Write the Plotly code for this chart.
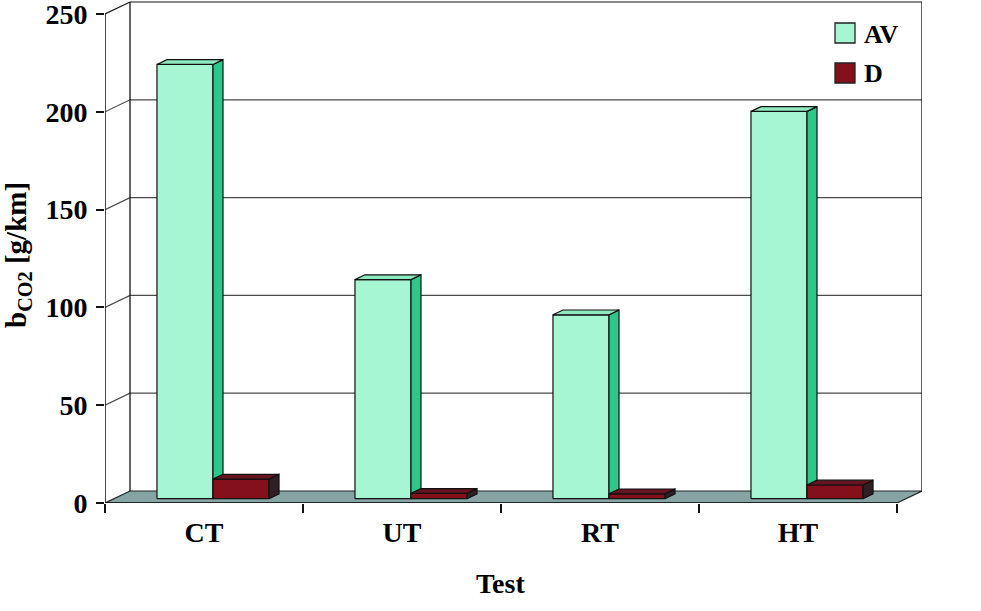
import plotly.graph_objects as go

# ---------------- data ----------------
categories = ["CT", "UT", "RT", "HT"]
series_names = ["AV", "D"]
av_values = [222, 112, 94, 198]
d_values = [10, 2.7, 2.5, 7]
y_ticks = [0, 50, 100, 150, 200, 250]

# ---------------- geometry / style ----------------
W, H = 981, 611
ML, MR, MT, MB = 105, 59, 1, 108
SX = 198.0                      # px per category
SY = 489 / 250                  # px per value unit
DX_PX, DY_PX = 25, 12           # 3-D depth offset in px
plot_w = W - ML - MR
plot_h = H - MT - MB
DX = DX_PX / SX
DY = DY_PX / SY
x_hi = plot_w / SX
y_hi = plot_h / SY
n = len(categories)
ymax = y_ticks[-1]

BW = 0.283                      # bar width (category units)
F0, F1 = 0.36, 0.76             # bar depth (front, back fraction)

FONT = "Liberation Serif"
colors = {
    "AV": dict(front="#A6F6D3", side="#2EC78A", top="#8EE9C0"),
    "D": dict(front="#84101C", side="#2F1E24", top="#651420"),
}
FLOOR = "#87A4A4"
GRID = "#4A4A4A"

fig = go.Figure()


def poly(xs, ys, fill, line="#111111", width=1.2):
    fig.add_trace(go.Scatter(
        x=list(xs) + [xs[0]], y=list(ys) + [ys[0]], mode="lines",
        fill="toself", fillcolor=fill, line=dict(color=line, width=width),
        hoverinfo="skip", showlegend=False, cliponaxis=False))


def line(xs, ys, color="#111111", width=1.2):
    fig.add_trace(go.Scatter(
        x=xs, y=ys, mode="lines", line=dict(color=color, width=width),
        hoverinfo="skip", showlegend=False, cliponaxis=False))


# floor
poly([0, n, n + DX, DX], [0, 0, DY, DY], FLOOR, line="#222222", width=1.2)

# back wall gridlines + side-wall diagonals
for v in y_ticks[1:]:
    c = "#111111" if v == ymax else GRID
    line([0, DX, n + DX], [v, v + DY, v + DY], color=c, width=1.2)
# back wall verticals
line([DX, DX], [DY, ymax + DY], color="#111111", width=1.3)
line([n + DX, n + DX], [DY, ymax + DY], color="#111111", width=1.3)
# front y-axis line
line([0, 0], [0, ymax], color="#111111", width=1.5)
# front x-axis line (floor front edge)
line([0, n], [0, 0], color="#111111", width=1.5)


def bar3d(x0, x1, v, cols):
    ox0, oy0 = F0 * DX, F0 * DY
    ox1, oy1 = F1 * DX, F1 * DY
    # front
    poly([x0 + ox0, x1 + ox0, x1 + ox0, x0 + ox0],
         [oy0, oy0, v + oy0, v + oy0], cols["front"])
    # right side
    poly([x1 + ox0, x1 + ox1, x1 + ox1, x1 + ox0],
         [oy0, oy1, v + oy1, v + oy0], cols["side"])
    # top
    poly([x0 + ox0, x1 + ox0, x1 + ox1, x0 + ox1],
         [v + oy0, v + oy0, v + oy1, v + oy1], cols["top"])


for i in range(n):
    c = i + 0.5
    bar3d(c - BW, c, av_values[i], colors["AV"])
    bar3d(c, c + BW, d_values[i], colors["D"])

# ---------------- layout ----------------
def px_to_paper_x(px):
    return (px - ML) / plot_w


def px_to_paper_y(py):
    return (H - MB - py) / plot_h


shapes = []
annotations = []
# legend (custom, to match swatch size)
for k, (name, yc) in enumerate(zip(series_names, [33, 73])):
    shapes.append(dict(type="rect", xref="paper", yref="paper",
                       x0=px_to_paper_x(835), x1=px_to_paper_x(855),
                       y0=px_to_paper_y(yc + 10), y1=px_to_paper_y(yc - 10),
                       fillcolor=colors[name]["front"],
                       line=dict(color="#222222", width=1.3)))
    annotations.append(dict(text=name, xref="paper", yref="paper",
                            x=px_to_paper_x(862), y=px_to_paper_y(yc + 1),
                            xanchor="left", yanchor="middle", showarrow=False,
                            font=dict(family=FONT, size=26, color="black", weight="bold")))

# axis titles
annotations.append(dict(text="b<sub>CO2</sub> [g/km]", xref="paper", yref="paper",
                        x=px_to_paper_x(18), y=px_to_paper_y(255),
                        xanchor="center", yanchor="middle", textangle=-90,
                        showarrow=False,
                        font=dict(family=FONT, size=29, color="black", weight="bold")))
annotations.append(dict(text="Test", xref="paper", yref="paper",
                        x=px_to_paper_x(500), y=px_to_paper_y(583),
                        xanchor="center", yanchor="middle", showarrow=False,
                        font=dict(family=FONT, size=28, color="black", weight="bold")))

fig.update_layout(
    width=W, height=H,
    margin=dict(l=ML, r=MR, t=MT, b=MB, autoexpand=False),
    paper_bgcolor="white", plot_bgcolor="white",
    showlegend=False,
    shapes=shapes, annotations=annotations,
    xaxis=dict(range=[0, x_hi], showgrid=False, zeroline=False, showline=False,
               automargin=False,
               tickmode="array", tickvals=[i + 0.5 for i in range(n)],
               ticktext=categories, ticks="", ticklabelstandoff=10,
               ticklabeloverflow="allow",
               tickfont=dict(family=FONT, size=28, color="black", weight="bold"),
               minor=dict(tickmode="array", tickvals=list(range(n + 1)),
                          ticks="outside", ticklen=9, tickwidth=1.5,
                          tickcolor="#111111", showgrid=False),
               fixedrange=True),
    yaxis=dict(range=[0, y_hi], showgrid=False, zeroline=False, showline=False,
               automargin=False,
               tickmode="array", tickvals=y_ticks, ticks="outside", ticklen=8,
               tickwidth=1.5, tickcolor="#111111", ticklabelstandoff=3,
               ticklabeloverflow="allow",
               tickfont=dict(family=FONT, size=28, color="black", weight="bold"),
               fixedrange=True),
)

fig.write_html("out.html", config={"displayModeBar": False},
               post_script="document.body.style.margin='0';document.body.style.padding='0';")
